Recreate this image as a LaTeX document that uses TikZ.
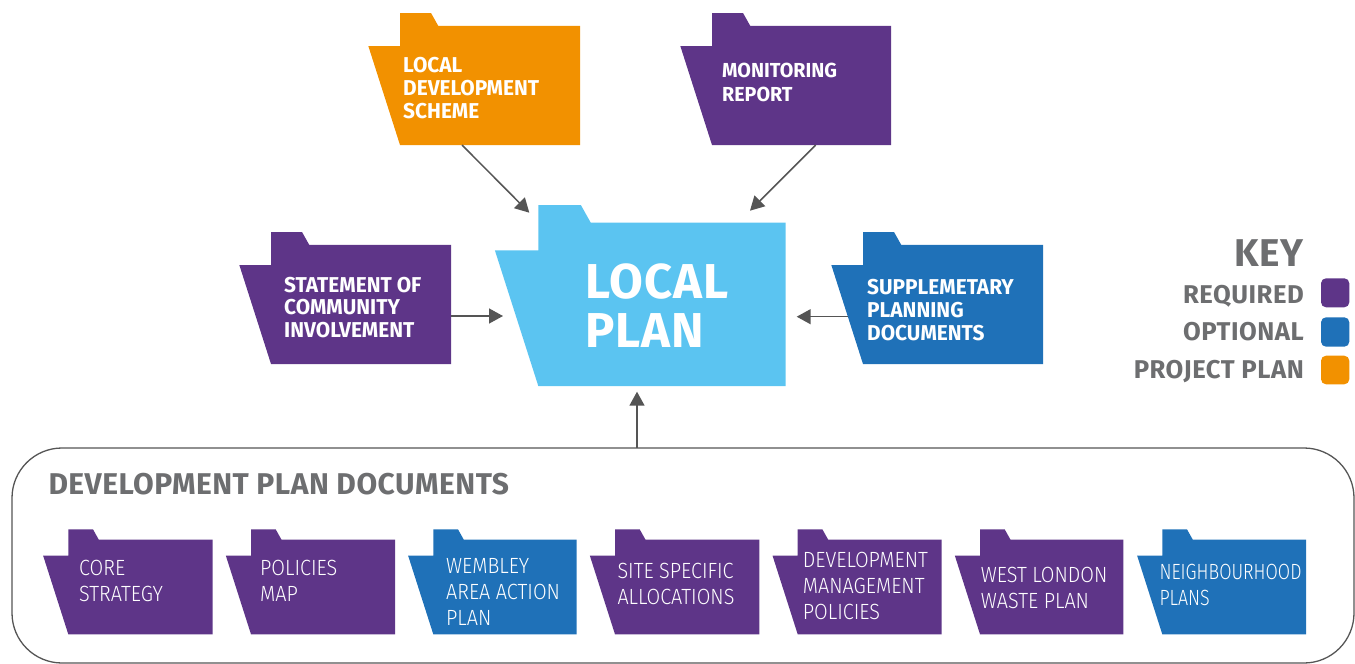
\documentclass[tikz,border=0pt]{standalone}
\usepackage{fontspec}
\usepackage{graphicx}
\setmainfont{Fira Sans}
\newfontfamily\fb[FakeStretch=0.97]{Fira Sans}
\newfontfamily\fk[LetterSpace=2]{Fira Sans}
\newfontfamily\fh[LetterSpace=1.6]{Fira Sans}
\newfontfamily\fl[FakeStretch=0.9]{Fira Sans Light}
\usetikzlibrary{arrows.meta,calc,fit}
\definecolor{req}{HTML}{5E3588}
\definecolor{opt}{HTML}{1F71B8}
\definecolor{proj}{HTML}{F29100}
\definecolor{lpblue}{HTML}{5BC4F1}
\definecolor{keygray}{HTML}{6D6E70}
\definecolor{arrgray}{HTML}{555555}
% #1 name, #2 L, #3 R, #4 T, #5 B, #6 colour
\newcommand\drawfolder[6]{%
  \pgfmathsetmacro\fH{#5-#4}%
  \fill[#6] (#2,#4) -- ({#2+0.235*\fH},#4) -- ({#2+0.29*\fH},{#4+0.098*\fH})
    -- (#3,{#4+0.098*\fH}) -- (#3,#5) -- (#2,#5)
    -- ({#2-0.24*\fH},{#4+0.25*\fH}) -- (#2,{#4+0.25*\fH}) -- cycle;
  \path (#2,#4) coordinate (#1-nw) (#3,#5) coordinate (#1-se);
  \node[inner sep=0pt, fit=(#1-nw)(#1-se)] (#1) {};
}
\newcommand\narrow[1]{\scalebox{0.9}[1]{#1}}
\tikzset{
  arr/.style={draw=arrgray, line width=1.5pt, -{Triangle[length=14pt,width=15pt]}},
  boldlbl/.style={anchor=north west, inner sep=0pt, align=left, text=white,
    font=\fb\bfseries\fontsize{21.5}{22.8}\selectfont},
  lightlbl/.style={anchor=north west, inner sep=0pt, align=left, text=white,
    font=\fl\fontsize{22}{26}\selectfont},
  keylbl/.style={anchor=north east, inner sep=0pt, text=keygray,
    font=\fk\bfseries\fontsize{25.7}{28}\selectfont},
  swatch/.style={rounded corners=5pt}
}
\begin{document}
\begin{tikzpicture}[x=1pt,y=-1pt]
\useasboundingbox (0,0) rectangle (1355,664);

% top row
\drawfolder{lds}{400}{580}{13}{145}{proj}
\node[boldlbl] (ldst) at (403,57.3) {LOCAL\\DEVELOPMENT\\SCHEME};
\drawfolder{mr}{712}{891}{13}{145}{req}
\node[boldlbl, font=\fb\bfseries\fontsize{20.3}{23.3}\selectfont] (mrt) at (722,63.3) {MONITORING\\REPORT};

% middle row
\drawfolder{sci}{271}{451}{232}{364}{req}
\node[boldlbl] (scit) at (284,276.7) {STATEMENT OF\\COMMUNITY\\INVOLVEMENT};
\drawfolder{lp}{538.3}{785.7}{205}{386}{lpblue}
\node[anchor=north west, inner sep=0pt, align=left, text=white,
  font=\fk\bfseries\fontsize{49}{49}\selectfont] (lpt) at (585,264) {LOCAL\\PLAN};
\drawfolder{spd}{863}{1043}{232}{364}{opt}
\node[boldlbl] (spdt) at (867,279.3) {SUPPLEMETARY\\PLANNING\\DOCUMENTS};

% development plan documents
\draw[arrgray, line width=1.3pt, rounded corners=50pt] (12,448) rectangle (1354,663);
\path (12,448) coordinate (dpd-nw) (1354,663) coordinate (dpd-se);
\node[inner sep=0pt, fit=(dpd-nw)(dpd-se)] (dpd) {};
\node[anchor=north west, inner sep=0pt, text=keygray,
  font=\fh\bfseries\fontsize{30}{32}\selectfont] (dpdt) at (48.3,473.3) {DEVELOPMENT PLAN DOCUMENTS};

\drawfolder{cs}{68.3}{212.7}{529.3}{634.3}{req}
\node[lightlbl] (cst) at (79,560) {CORE\\STRATEGY};
\drawfolder{pm}{251}{395}{529.3}{634.3}{req}
\node[lightlbl] (pmt) at (260,560) {POLICIES\\MAP};
\drawfolder{wa}{433.3}{576.7}{529.3}{634.3}{opt}
\node[lightlbl] (wat) at (446,558.3) {WEMBLEY\\AREA ACTION\\PLAN};
\drawfolder{ss}{615}{759.3}{529.3}{634.3}{req}
\node[lightlbl] (sst) at (617.3,563.3) {SITE SPECIFIC\\ALLOCATIONS};
\drawfolder{dm}{797.7}{941.7}{529.3}{634.3}{req}
\node[lightlbl] (dmt) at (802.7,551.7) {DEVELOPMENT\\MANAGEMENT\\POLICIES};
\drawfolder{wl}{980}{1123.3}{529.3}{634.3}{req}
\node[lightlbl] (wlt) at (980.7,566.7) {WEST LONDON\\WASTE PLAN};
\drawfolder{np}{1162.3}{1306}{529.3}{634.3}{opt}
\node[lightlbl] (npt) at (1159.3,564) {\narrow{NEIGHBOURHOOD}\\\narrow{PLANS}};

% connectors
\coordinate (lds-out) at (462,145);
\coordinate (lp-inlds) at (529.3,212.7);
\coordinate (mr-out) at (815.7,145);
\coordinate (lp-inmr) at (750,210.7);
\coordinate (sci-out) at (451,316);
\coordinate (lp-insci) at (503,316);
\coordinate (spd-out) at (848,316.7);
\coordinate (lp-inspd) at (796.7,316.7);
\coordinate (dpd-out) at (637,448);
\coordinate (lp-indpd) at (637,391.7);
\draw[arr] (lds-out) -- (lp-inlds);
\draw[arr] (mr-out) -- (lp-inmr);
\draw[arr] (sci-out) -- (lp-insci);
\draw[arr] (spd-out) -- (lp-inspd);
\draw[arr] (dpd-out) -- (lp-indpd);

% key
\node[anchor=north east, inner sep=0pt, text=keygray,
  font=\fk\bfseries\fontsize{38.7}{40}\selectfont] (key) at (1304,239.3) {KEY};
\node[keylbl] (kreq) at (1304,285) {REQUIRED};
\node[keylbl] (kopt) at (1304,321.7) {OPTIONAL};
\node[keylbl] (kproj) at (1304,360) {PROJECT PLAN};
\fill[req, swatch] (1321,278.3) rectangle (1349.3,307.3);
\fill[opt, swatch] (1321,317.3) rectangle (1349.3,346.7);
\fill[proj, swatch] (1321,355.7) rectangle (1349.3,384.3);
\end{tikzpicture}
\end{document}
